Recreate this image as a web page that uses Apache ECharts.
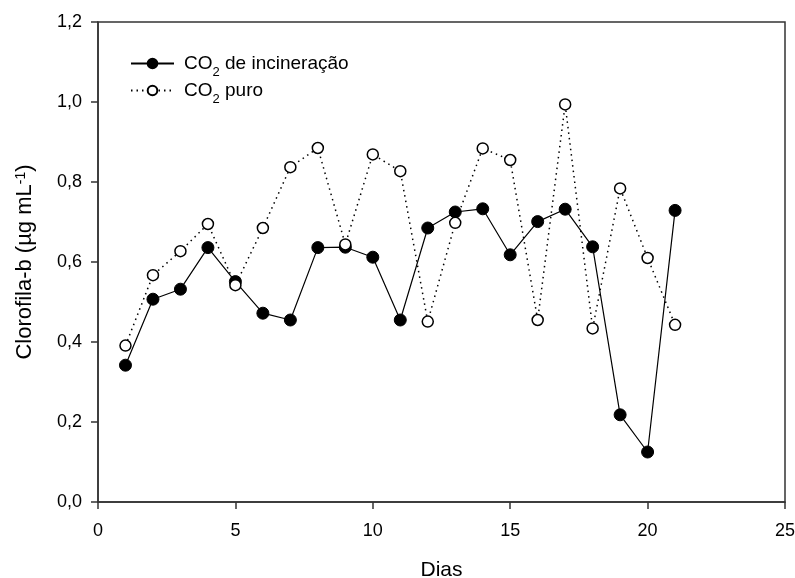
<!DOCTYPE html>
<html>
<head>
  <meta charset="utf-8" />
  <title>Clorofila-b</title>
  <style>
    html, body { margin: 0; padding: 0; background: #fff; }
    #chart { width: 795px; height: 578px; }
  </style>
</head>
<body>
  <div id="chart"></div>
  <script src="https://cdn.jsdelivr.net/npm/echarts@6/dist/echarts.min.js"></script>
  <script>
    // dados
    var dias = [1, 2, 3, 4, 5, 6, 7, 8, 9, 10, 11, 12, 13, 14, 15, 16, 17, 18, 19, 20, 21];
    var co2Incineracao = [0.342, 0.507, 0.532, 0.636, 0.551, 0.472, 0.455, 0.636, 0.637, 0.612, 0.455,
                          0.685, 0.725, 0.733, 0.618, 0.701, 0.732, 0.638, 0.218, 0.125, 0.729];
    var co2Puro = [0.391, 0.567, 0.627, 0.695, 0.542, 0.685, 0.837, 0.885, 0.644, 0.869, 0.827,
                   0.451, 0.698, 0.884, 0.855, 0.455, 0.994, 0.434, 0.784, 0.610, 0.443];
    var xTicks = { min: 0, max: 25, interval: 5 };
    var yTicks = { min: 0, max: 1.2, interval: 0.2 };

    var _font = 'Liberation Sans, Arial, sans-serif';
    var _axisColor = '#333';

    function pares(xs, ys) {
      return xs.map(function (x, i) { return [x, ys[i]]; });
    }

    var myChart = echarts.init(document.getElementById('chart'));
    var option = {
      animation: false,
      textStyle: { fontFamily: _font },
      grid: {
        left: 98, right: 10, top: 22, bottom: 76,
        outerBoundsMode: 'none', containLabel: false,
        show: true, borderColor: _axisColor, borderWidth: 1.5
      },
      legend: {
        left: 125, top: 49,
        orient: 'vertical',
        itemWidth: 43, itemHeight: 12, itemGap: 2,
        textStyle: {
          fontSize: 19, color: '#000', padding: [0, 0, 0, 5],
          rich: {
            a: { fontSize: 19, color: '#000', fontFamily: _font },
            s: { fontSize: 13, color: '#000', fontFamily: _font, verticalAlign: 'bottom', padding: [0, 0, -6, 0] }
          }
        },
        formatter: function (name) {
          var parts = name.split('CO2');
          return '{a|CO}{s|2}{a|' + parts[1] + '}';
        },
        data: ['CO2 de incineração', 'CO2 puro']
      },
      xAxis: {
        type: 'value',
        min: xTicks.min, max: xTicks.max, interval: xTicks.interval,
        name: 'Dias', nameLocation: 'middle', nameGap: 58,
        nameTextStyle: { fontSize: 21, color: '#000', fontFamily: _font },
        axisLine: { show: true, lineStyle: { color: _axisColor, width: 1.5 } },
        axisTick: { show: true, inside: false, length: 7, lineStyle: { color: _axisColor, width: 1.5 } },
        axisLabel: { fontSize: 18, color: '#000', margin: 20, fontFamily: _font },
        splitLine: { show: false }
      },
      yAxis: {
        type: 'value',
        min: yTicks.min, max: yTicks.max, interval: yTicks.interval,
        name: '{a|Clorofila-b (µg mL}{sup|-1}{a|)}',
        nameLocation: 'middle', nameGap: 62,
        nameTextStyle: {
          fontSize: 22, color: '#000', fontFamily: _font,
          rich: {
            a: { fontSize: 22, color: '#000', fontFamily: _font },
            sup: { fontSize: 14, color: '#000', fontFamily: _font, verticalAlign: 'top', padding: [0, 0, 8, 0] }
          }
        },
        axisLine: { show: true, lineStyle: { color: _axisColor, width: 1.5 } },
        axisTick: { show: true, inside: false, length: 7, lineStyle: { color: _axisColor, width: 1.5 } },
        axisLabel: {
          fontSize: 18, color: '#000', margin: 16, fontFamily: _font,
          formatter: function (v) { return v.toFixed(1).replace('.', ','); }
        },
        splitLine: { show: false }
      },
      series: [{
        name: 'CO2 de incineração',
        type: 'line',
        data: pares(dias, co2Incineracao),
        symbol: 'circle', symbolSize: 12,
        itemStyle: { color: '#000', borderColor: '#000', borderWidth: 1 },
        lineStyle: { color: '#000', width: 1.2, type: 'solid' },
        z: 3
      }, {
        name: 'CO2 puro',
        type: 'line',
        data: pares(dias, co2Puro),
        symbol: 'circle', symbolSize: 11,
        itemStyle: { color: '#fff', borderColor: '#000', borderWidth: 1.5 },
        lineStyle: { color: '#000', width: 1.5, type: [1.5, 4] },
        z: 4
      }]
    };
    myChart.setOption(option);
  </script>
</body>
</html>
